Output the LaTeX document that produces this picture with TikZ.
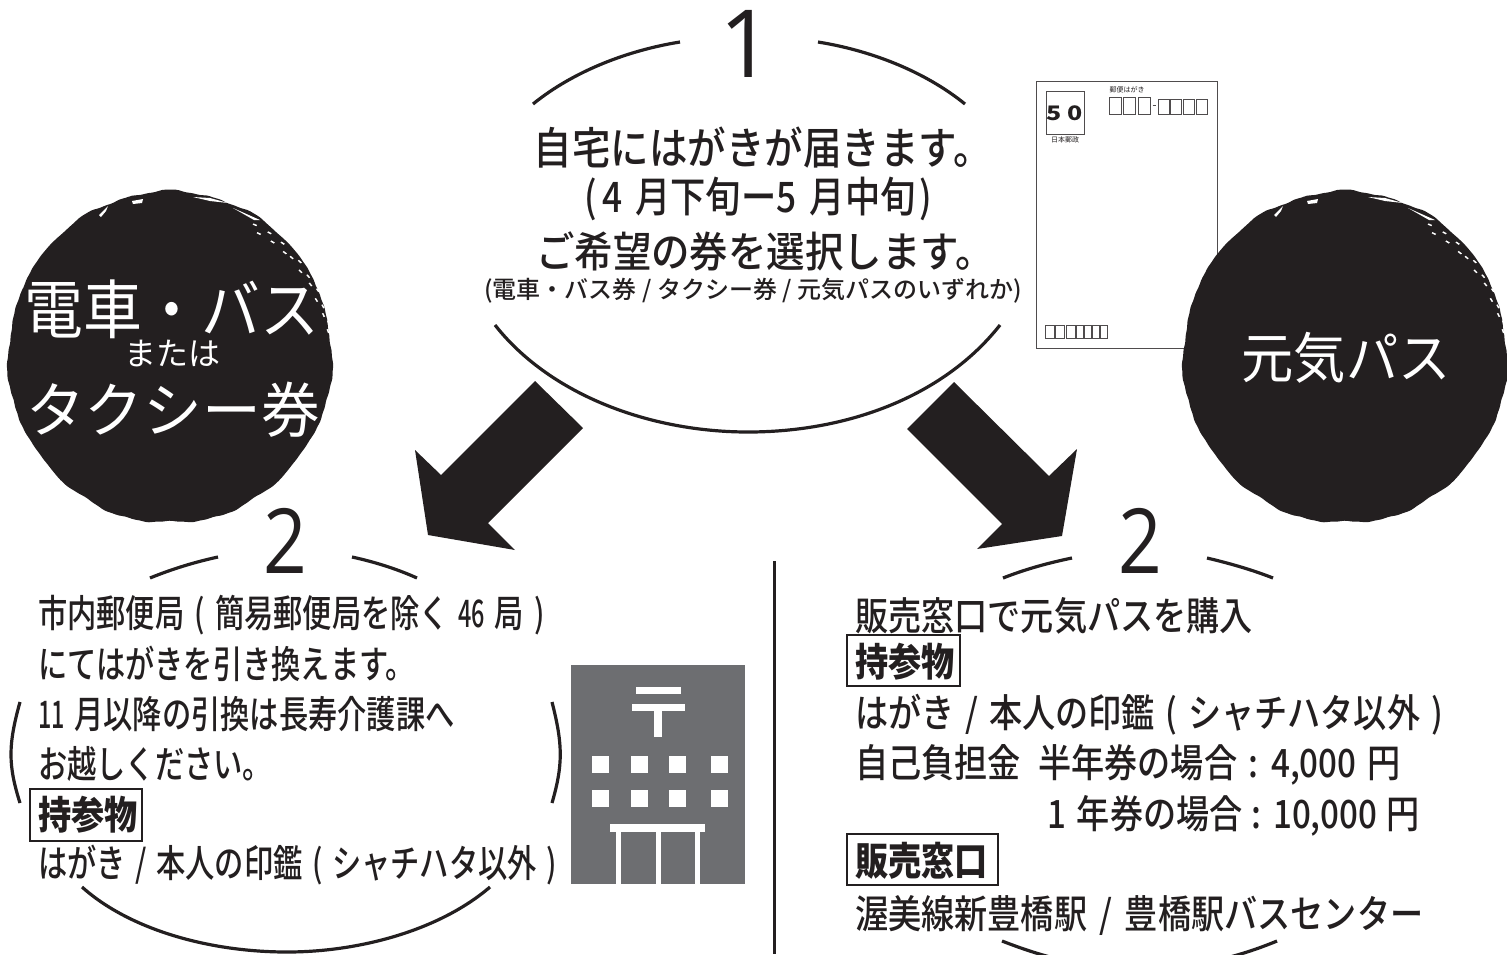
\documentclass[tikz,border=0pt]{standalone}
\usepackage{fontspec}
\setmainfont{Noto Sans CJK JP}
\newfontfamily\md{Noto Sans CJK JP Medium}
\newfontfamily\digitfont{Open Sans}
\definecolor{ink}{HTML}{231F20}
\definecolor{postal}{HTML}{6D6E71}
\tikzset{
  arcline/.style={draw=ink,line width=3.2pt,line cap=butt},
  lbl/.style={anchor=west,inner sep=0pt,text=ink,transform shape},
  ctr/.style={anchor=center,inner sep=0pt,text=ink,transform shape},
  bigarrow/.style={fill=ink,draw=none},
  blob/.style={fill=ink,draw=none},
  fleck/.style={fill=white,draw=none},
  win/.style={fill=white,draw=none},
  card/.style={draw=ink!80,line width=1pt,fill=white},
  cardbox/.style={draw=ink!80,line width=1pt},
  tagbox/.style={draw=ink,line width=2.2pt,fill=white}
}
\newcommand{\fs}[1]{\fontsize{#1}{#1}\selectfont}
\newcommand{\gp}[1]{\hspace{#1em}}
\newcommand{\nd}[1]{\scalebox{.8}[1]{#1}}
\newcommand{\roughcircle}[2]{%
  \fill[blob] plot[domain=0:360,samples=300] ({#1+(162+1.1*sin(7*\x)+0.8*sin(17*\x)+0.5*sin(43*\x)*sin(29*\x))*cos(\x)},{#2+(166+1.0*sin(11*\x)+0.8*sin(23*\x)+0.5*sin(37*\x)*sin(31*\x))*sin(\x)}) -- cycle;
  \fill[fleck] (#1-38,#2-156) -- (#1-27,#2-158) -- (#1-28,#2-154) -- (#1-37,#2-153) -- cycle;
  \fill[fleck] (#1-71,#2-142) -- (#1-62,#2-151) -- (#1-64,#2-146) -- (#1-69,#2-140) -- cycle;
  \fill[fleck] (#1+23,#2-160) -- (#1+40,#2-159) -- (#1+58,#2-154) -- (#1+40,#2-156) -- cycle;
  \fill[fleck] (#1+63,#2-149) -- (#1+90,#2-137) -- (#1+84,#2-137) -- cycle;
  \fill[fleck] (#1+72,#2-152) -- (#1+110,#2-130) -- (#1+112,#2-134) -- (#1+84,#2-152) -- cycle;
  \foreach \a/\r in {-58/156,-55/151,-52/158,-49/153,-46/159,-43/154,-40/156,-37/160,-34/155,-31/159,-28/157,-25/161,-22/156,-19/160,-16/158,-13/161,-10/159,-7/162}
    \fill[fleck] ({#1+\r*cos(\a)},{#2+\r*sin(\a)}) -- ++({\a+80}:4) -- ++({\a}:1.5) -- ++({\a+260}:4) -- cycle;
}
\begin{document}
\begin{tikzpicture}[x=1pt,y=-1pt]
\useasboundingbox (0,0) rectangle (1507,954);
% top ellipse
\draw[arcline] (533,104) .. controls (575,70) and (630,50) .. (680,42);
\draw[arcline] (818,42) .. controls (868,50) and (923,70) .. (965,104);
\draw[arcline] (495,325) .. controls (550,395) and (650,432) .. (748,432) .. controls (850,432) and (945,395) .. (1000,325);
\node[ctr,font=\digitfont\fs{94}] (one) at (746,44) {1};
\node[ctr,xscale=.875,font=\md\fs{44}] (t1) at (763,148) {自宅にはがきが届きます。};
\node[ctr,xscale=.84,font=\md\fs{42}] (t2) at (758,199) {(\gp{.15}4\gp{.15} 月下旬ー5\gp{.15} 月中旬\gp{.1})};
\node[ctr,xscale=.916,font=\md\fs{42}] (t3) at (765,251) {ご希望の券を選択します。};
\node[ctr,xscale=1.0,font=\md\fs{24}] (t4) at (753,291) {(電車・バス券 / タクシー券 / 元気パスのいずれか)};
% postcard
\draw[card] (1036,81) rectangle (1217,348);
\draw[cardbox] (1046,91) rectangle (1084,134);
\node[ctr,xscale=1.25,font=\bfseries\fs{20}] (fifty) at (1065,113) {5 0};
\node[ctr,font=\fs{7}] (jp) at (1065,140) {日本郵政};
\node[ctr,font=\fs{7}] (yb) at (1127,90) {郵便はがき};
\foreach \x in {1109,1123,1138} \draw[cardbox] (\x,97) rectangle +(12,17);
\foreach \x in {1158,1170,1183,1196} \draw[cardbox] (\x,99) rectangle +(11,15);
\draw[cardbox] (1152.5,105) -- (1155.5,105);
\foreach \x in {1045,1055,1066} \draw[cardbox] (\x,325) rectangle +(9,13);
\foreach \x in {1076,1084,1092,1100} \draw[cardbox] (\x,325) rectangle +(7,13);
% blobs
\roughcircle{170}{357}
\roughcircle{1345}{357}
\node[ctr,xscale=.92,text=white,font=\fs{64}] (a1) at (172,309) {電車・バス};
\node[ctr,text=white,font=\fs{32}] (a2) at (172,354) {または};
\node[ctr,xscale=.98,text=white,font=\fs{60}] (a3) at (173,410) {タクシー券};
\node[ctr,xscale=.95,text=white,font=\fs{55}] (b1) at (1346,358) {元気パス};
% arrows
\fill[bigarrow] (535,381) -- (583,428) -- (488,523) -- (515,550) -- (428,535) -- (415,450) -- (441,475) -- cycle;
\fill[bigarrow] (954,382) -- (907,429) -- (1002,524) -- (977,549) -- (1062,536) -- (1077,449) -- (1049,476) -- cycle;
% divider
\draw[draw=ink,line width=3pt] (774,561) -- (774,954);
% left 2
\node[ctr,xscale=.85,font=\digitfont\fs{90}] (two) at (285,541) {2};
\draw[arcline] (150,578) .. controls (172,569) and (195,562) .. (218,557);
\draw[arcline] (352,557) .. controls (375,562) and (397,569) .. (417,578);
\draw[arcline] (20,702) .. controls (8,745) and (8,765) .. (20,803);
\draw[arcline] (552,702) .. controls (563,745) and (563,765) .. (552,803);
\draw[arcline] (82,887) .. controls (130,930) and (210,952) .. (287,952) .. controls (360,952) and (440,930) .. (490,887);
\node[lbl,xscale=.77,font=\md\fs{38}] (l1) at (38,615) {市内郵便局\gp{.12} (\gp{.12} 簡易郵便局を除く\gp{.1} \nd{46}\gp{.1} 局\gp{.12} )};
\node[lbl,xscale=.77,font=\md\fs{38}] (l2) at (38,664) {にてはがきを引き換えます。};
\node[lbl,xscale=.77,font=\md\fs{38}] (l3) at (38,714) {\nd{11}\gp{.1} 月以降の引換は長寿介護課へ};
\node[lbl,xscale=.77,font=\md\fs{38}] (l4) at (38,764) {お越しください。};
\draw[tagbox] (30,789) rectangle (142,841);
\node[lbl,xscale=.85,font=\bfseries\fs{39}] (l5) at (38,815) {持参物};
\node[lbl,xscale=.77,font=\md\fs{38}] (l6) at (38,865) {はがき\gp{.1} /\gp{.1} 本人の印鑑\gp{.1} (\gp{.1} シャチハタ以外\gp{.1} )};
% post office
\fill[postal] (571,665) rectangle (745,884);
\fill[win] (636,687) rectangle (681,694);
\fill[win] (632,704) rectangle (685,711);
\fill[win] (654,711) rectangle (662,737);
\foreach \x in {592,631,669,711} \foreach \y in {756,790} \fill[win] (\x,\y) rectangle +(17,17);
\fill[win] (610,824) rectangle (705,832);
\fill[win] (616,832) rectangle (621,884);
\fill[win] (656,832) rectangle (661,884);
\fill[win] (695,832) rectangle (700,884);
% right 2
\node[ctr,xscale=.85,font=\digitfont\fs{90}] (twob) at (1140,541) {2};
\draw[arcline] (1003,578) .. controls (1026,569) and (1048,563) .. (1072,558);
\draw[arcline] (1207,558) .. controls (1228,563) and (1250,569) .. (1273,578);
\draw[arcline] (1002,941) .. controls (1020,948) and (1035,953) .. (1050,957);
\draw[arcline] (1230,957) .. controls (1245,953) and (1260,948) .. (1277,941);
\node[lbl,xscale=.85,font=\md\fs{39}] (r1) at (855,616) {販売窓口で元気パスを購入};
\draw[tagbox] (847,635) rectangle (960,686);
\node[lbl,xscale=.85,font=\bfseries\fs{39}] (r2) at (855,662) {持参物};
\node[lbl,xscale=.85,font=\md\fs{39}] (r3) at (855,715) {はがき\gp{.1} /\gp{.1} 本人の印鑑\gp{.1} (\gp{.1} シャチハタ以外\gp{.1} )};
\node[lbl,xscale=.85,font=\md\fs{39}] (r4) at (855,765) {自己負担金\gp{.3} 半年券の場合\gp{.1} :\gp{.1} 4,000\gp{.1} 円};
\node[lbl,xscale=.85,font=\md\fs{39}] (r5) at (1047,816) {1\gp{.1} 年券の場合\gp{.05} :\gp{.05} 10,000\gp{.05} 円};
\draw[tagbox] (847,834) rectangle (998,885);
\node[lbl,xscale=.85,font=\bfseries\fs{39}] (r6) at (855,861) {販売窓口};
\node[lbl,xscale=.85,font=\md\fs{39}] (r7) at (855,915) {渥美線新豊橋駅\gp{.15} /\gp{.15} 豊橋駅バスセンター};
\end{tikzpicture}
\end{document}
